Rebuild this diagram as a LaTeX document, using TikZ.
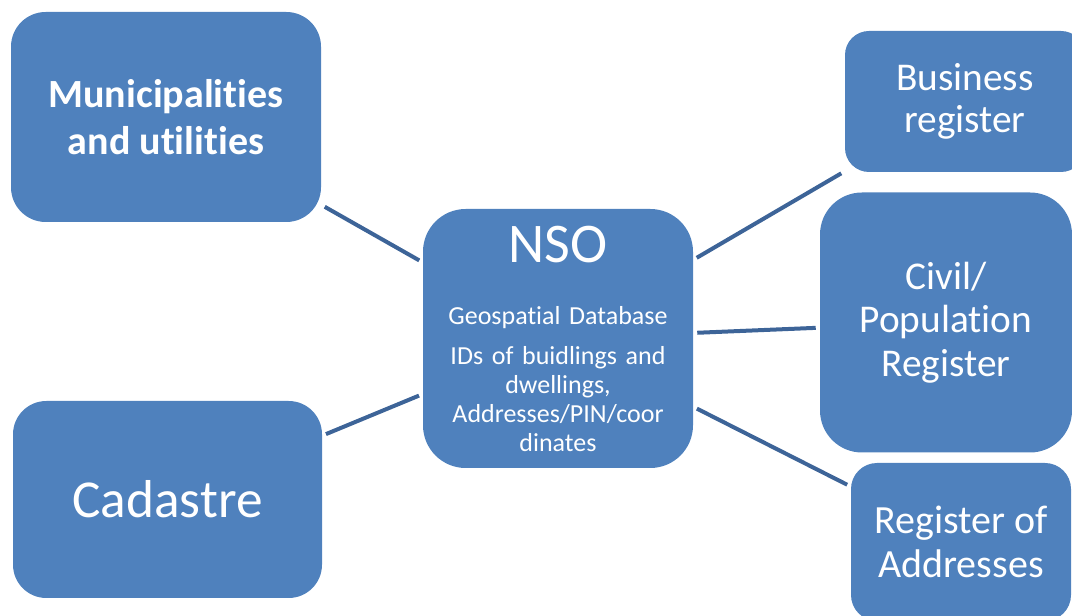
\documentclass[tikz,border=0pt]{standalone}
\usepackage{fontspec}
\setmainfont{Carlito}[Ligatures=NoCommon]
\definecolor{boxblue}{HTML}{4F81BD}
\definecolor{linkblue}{HTML}{3D6498}
\begin{document}
\begin{tikzpicture}[x=0.75pt,y=-0.75pt,
  box/.style={rectangle, fill=boxblue, text=white, align=center, inner sep=0pt},
  lbl/.style={text=white, inner sep=0pt, align=center},
  conn/.style={draw=linkblue, line width=3pt, shorten <=3pt, shorten >=3pt}]
\useasboundingbox (0,0) rectangle (1072,616);
\clip (0,0) rectangle (1072,616);
% boxes
\node[box, minimum width=232.5pt, minimum height=157.5pt, rounded corners=26pt,
      font=\bfseries\fontsize{30}{35.25}\selectfont] (muni) at (166,117) {Municipalities\\and utilities};
\node[box, minimum width=231.75pt, minimum height=147.75pt, rounded corners=25pt,
      font=\fontsize{40}{48}\selectfont] (cad) at (167.5,499.5) {Cadastre};
\node[box, minimum width=202.5pt, minimum height=194.25pt, rounded corners=32pt] (nso) at (558,338.5) {};
\node[box, minimum width=180pt, minimum height=105.75pt, rounded corners=18pt,
      font=\fontsize{29.5}{31.5}\selectfont] (biz) at (965,101.5) {Business\\register};
\node[box, minimum width=189pt, minimum height=195pt, rounded corners=31.5pt,
      font=\fontsize{29.5}{32.6}\selectfont] (civ) at (946,322.5) {Civil/\\Population\\Register};
\node[box, minimum width=165pt, minimum height=118.5pt, rounded corners=19.5pt,
      font=\fontsize{30}{33}\selectfont] (addr) at (961,542) {Register of\\Addresses};
% NSO texts
\node[lbl, anchor=base, font=\fontsize{42}{46}\selectfont] (nsotitle) at (558,263) {NSO};
\node[lbl, anchor=base, text width=195pt, font=\fontsize{19.5}{21.75}\selectfont] (nsobody) at (558,325)
  {Geospatial Database\\[8.25pt]IDs of buidlings and\\dwellings,\\Addresses/PIN/coor\\dinates};
% connectors
\draw[conn] (muni) -- (nso);
\draw[conn] (cad) -- (nso);
\draw[conn] (nso) -- (biz);
\draw[conn] (nso) -- (civ);
\draw[conn] (nso) -- (addr);
\end{tikzpicture}
\end{document}
